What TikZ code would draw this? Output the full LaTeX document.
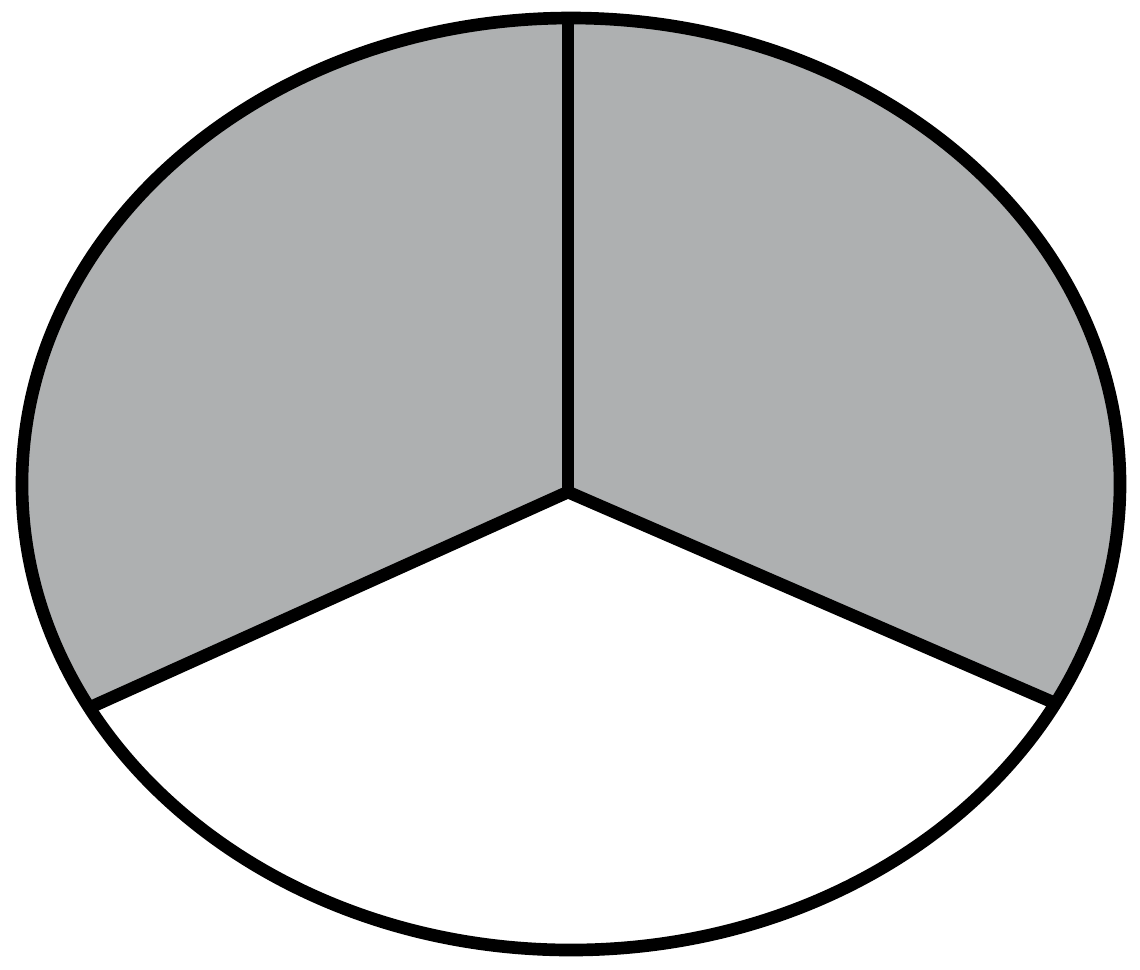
\documentclass[tikz,border=0pt]{standalone}
\begin{document}
\begin{tikzpicture}[x=0.01cm,y=-0.01cm,
  outline/.style={line width=3.6pt,draw=black},
  sector/.style={fill=secgray}]
\definecolor{secgray}{HTML}{AEB0B1}
\useasboundingbox (0,0) rectangle (1140,969);
\coordinate (C) at (571,484);
\coordinate (apex) at (568,492);
\coordinate (top) at (568,0);
\coordinate (leftend) at (0,748);
\coordinate (rightend) at (1140,740);
\begin{scope}
  \clip (C) ellipse [x radius=549, y radius=466];
  \fill[sector] (apex) -- (leftend) -- (0,0) -- (1140,0) -- (rightend) -- cycle;
  \draw[outline] (apex) -- (leftend);
  \draw[outline] (apex) -- (rightend);
  \draw[outline] (apex) -- (top);
\end{scope}
\draw[outline] (C) ellipse [x radius=549, y radius=466];
\end{tikzpicture}
\end{document}
